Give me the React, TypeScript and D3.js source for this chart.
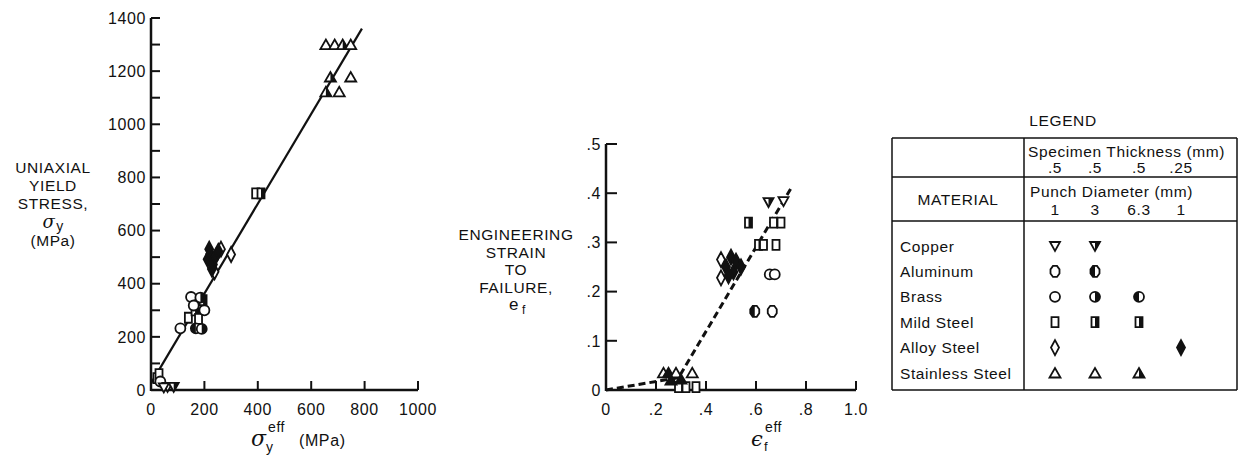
import React from 'react';
import * as d3 from 'd3';

// marker: [x, y, fill]  fill: o = open, l = left half, r = right half, f = filled
const leftStainless = [[655, 1300, 'o'], [688, 1300, 'o'], [718, 1300, 'r'], [748, 1300, 'o'], [672, 1178, 'r'], [748, 1178, 'o'], [655, 1122, 'r'], [705, 1122, 'o']];
const leftMild = [[392, 740, 'o'], [412, 740, 'r'], [140, 272, 'o'], [165, 300, 'r'], [178, 268, 'o'], [195, 338, 'r'], [22, 45, 'o'], [30, 60, 'o']];
const leftBrass = [[150, 350, 'o'], [185, 348, 'r'], [110, 232, 'o'], [168, 232, 'l'], [200, 300, 'o'], [190, 230, 'r'], [160, 318, 'o'], [35, 32, 'o']];
const leftAlloy = [[300, 510, 'o'], [262, 530, 'o'], [238, 445, 'o'], [212, 492, 'f'], [222, 512, 'f'], [232, 472, 'f'], [242, 502, 'f'], [218, 530, 'f'], [252, 522, 'f'], [228, 455, 'f']];
const leftCopper = [[62, 12, 'o'], [85, 12, 'r'], [48, 10, 'o']];
const leftFit = [[0, 25], [790, 1360]];

const rightCopper = [[0.65, 0.382, 'r'], [0.71, 0.384, 'o']];
const rightMild = [[0.57, 0.34, 'r'], [0.67, 0.34, 'o'], [0.70, 0.34, 'o'], [0.61, 0.295, 'r'], [0.63, 0.295, 'o'], [0.68, 0.295, 'o'], [0.29, 0.006, 'o'], [0.32, 0.006, 'o'], [0.36, 0.006, 'o']];
const rightBrass = [[0.655, 0.235, 'o'], [0.675, 0.235, 'o']];
const rightAluminum = [[0.595, 0.16, 'l'], [0.665, 0.16, 'o']];
const rightAlloy = [[0.46, 0.265, 'o'], [0.46, 0.228, 'o'], [0.48, 0.25, 'f'], [0.50, 0.27, 'f'], [0.51, 0.24, 'f'], [0.52, 0.262, 'f'], [0.54, 0.25, 'f'], [0.49, 0.232, 'f']];
const rightStainless = [[0.23, 0.035, 'o'], [0.25, 0.035, 'f'], [0.28, 0.035, 'o'], [0.345, 0.035, 'o'], [0.26, 0.02, 'f'], [0.30, 0.022, 'f']];
const rightFit = [[0, 0], [0.29, 0.025], [0.74, 0.41]];

const leftYTicks = [0, 200, 400, 600, 800, 1000, 1200, 1400];
const leftYMinor = [100, 300, 500, 700, 900, 1100, 1300];
const leftXTicks = [0, 200, 400, 600, 800, 1000];
const rightYTicks = [0, 0.1, 0.2, 0.3, 0.4, 0.5];
const rightYLabels = ['0', '.1', '.2', '.3', '.4', '.5'];
const rightXTicks = [0, 0.2, 0.4, 0.6, 0.8, 1.0];
const rightXLabels = ['0', '.2', '.4', '.6', '.8', '1.0'];

const materials = ['Copper', 'Aluminum', 'Brass', 'Mild Steel', 'Alloy Steel', 'Stainless Steel'];
const thickness = ['.5', '.5', '.5', '.25'];
const punch = ['1', '3', '6.3', '1'];
// legend symbol fill per material per column ('' = none)
const legendFills = [
  ['o', 'r', '', ''],
  ['o', 'l', '', ''],
  ['o', 'r', 'l', ''],
  ['o', 'r', 'r', ''],
  ['o', '', '', 'f'],
  ['o', 'o', 'r', ''],
];
const shapes = ['triDown', 'hex', 'circle', 'rect', 'diamond', 'triUp'];

const FONT = 'Liberation Sans, Arial, sans-serif';
const LS = 0.6;

function shapePath(shape: string) {
  switch (shape) {
    case 'triDown': return 'M-5,-4L5,-4L0,5Z';
    case 'triUp': return 'M-5.5,4.5L5.5,4.5L0,-5Z';
    case 'rect': return 'M-3.5,-5h7v10h-7Z';
    case 'circle': return 'M-5,0a5,5 0 1,0 10,0a5,5 0 1,0 -10,0Z';
    case 'hex': return 'M-2,-5.5L2,-5.5L4.5,-2L4.5,2L2,5.5L-2,5.5L-4.5,2L-4.5,-2Z';
    default: return 'M0,-7.5L4,0L0,7.5L-4,0Z';
  }
}

function Marker({ shape, fill, x, y }: { shape: string; fill: string; x: number; y: number }) {
  const d = shapePath(shape);
  return (
    <g transform={`translate(${x},${y})`}>
      <path d={d} fill={fill === 'f' ? '#111' : '#fff'} stroke="#111" strokeWidth={1.8} />
      {(fill === 'l' || fill === 'r') && (
        <path d={d} fill="#111" clipPath={`url(#half-${fill})`} />
      )}
    </g>
  );
}

export default function App() {
  const xL = d3.scaleLinear().domain([0, 1000]).range([151, 418]);
  const yL = d3.scaleLinear().domain([0, 1400]).range([390, 18]);
  const xR = d3.scaleLinear().domain([0, 1]).range([606, 856]);
  const yR = d3.scaleLinear().domain([0, 0.5]).range([390, 144]);

  const lineL = d3.line<number[]>().x(d => xL(d[0])).y(d => yL(d[1]));
  const lineR = d3.line<number[]>().x(d => xR(d[0])).y(d => yR(d[1]));

  const leftSets: [string, any[]][] = [
    ['triUp', leftStainless], ['rect', leftMild], ['circle', leftBrass], ['diamond', leftAlloy], ['triDown', leftCopper],
  ];
  const rightSets: [string, any[]][] = [
    ['triDown', rightCopper], ['rect', rightMild], ['circle', rightBrass], ['hex', rightAluminum], ['diamond', rightAlloy], ['triUp', rightStainless],
  ];

  // legend layout
  const lgL = 892, lgR = 1237, lgDiv = 1024;
  const lgTop = 138, lgBot = 390;
  const colX = [1055, 1095, 1139, 1181];
  const rowY = d3.scalePoint().domain(materials).range([246, 373]);

  return (
    <svg width={1241} height={455} style={{ position: 'absolute', left: 0, top: 0, background: '#fff' }}
      fontFamily={FONT} fill="#111" letterSpacing={LS}>
      <defs>
        <clipPath id="half-l"><rect x={-10} y={-10} width={10} height={20} /></clipPath>
        <clipPath id="half-r"><rect x={0} y={-10} width={10} height={20} /></clipPath>
      </defs>

      {/* left chart */}
      <g>
        <line x1={xL(0)} x2={xL(0)} y1={yL(0) + 1} y2={yL(1400)} stroke="#111" strokeWidth={2.5} />
        <line x1={xL(0)} x2={xL(1000)} y1={yL(0)} y2={yL(0)} stroke="#111" strokeWidth={2.5} />
        {leftYTicks.map(t => (
          <g key={t}>
            <line x1={xL(0)} x2={xL(0) + 9} y1={yL(t)} y2={yL(t)} stroke="#111" strokeWidth={2} />
            <text x={xL(0) - 5} y={yL(t)} dy="0.36em" textAnchor="end" fontSize={16}>{t}</text>
          </g>
        ))}
        {leftYMinor.map(t => (
          <line key={t} x1={xL(0)} x2={xL(0) + 9} y1={yL(t)} y2={yL(t)} stroke="#111" strokeWidth={2} />
        ))}
        {leftXTicks.map(t => (
          <g key={t}>
            <line x1={xL(t)} x2={xL(t)} y1={yL(0)} y2={yL(0) - 9} stroke="#111" strokeWidth={2} />
            <text x={xL(t)} y={yL(0) + 25} textAnchor="middle" fontSize={16}>{t}</text>
          </g>
        ))}
        <path d={lineL(leftFit) || ''} fill="none" stroke="#111" strokeWidth={2.2} />
        {leftSets.map(([shape, pts]) => pts.map((p, i) => (
          <Marker key={shape + i} shape={shape} fill={p[2]} x={xL(p[0])} y={yL(p[1])} />
        )))}
        <text x={251} y={446} fontSize={22} fontStyle="italic" fontFamily="DejaVu Serif, serif">σ</text>
        <text x={266} y={452} fontSize={14}>y</text>
        <text x={268} y={432} fontSize={14}>eff</text>
        <text x={299} y={446} fontSize={16}>(MPa)</text>
        <g textAnchor="middle" fontSize={15.5}>
          <text x={53} y={173}>UNIAXIAL</text>
          <text x={53} y={191}>YIELD</text>
          <text x={53} y={209}>STRESS,</text>
          <text x={49} y={228} fontSize={18} fontStyle="italic" fontFamily="DejaVu Serif, serif">σ</text>
          <text x={60} y={231} fontSize={14}>y</text>
          <text x={53} y={246}>(MPa)</text>
        </g>
      </g>

      {/* right chart */}
      <g>
        <line x1={xR(0)} x2={xR(0)} y1={yR(0) + 1} y2={yR(0.5)} stroke="#111" strokeWidth={2.5} />
        <line x1={xR(0)} x2={xR(1)} y1={yR(0)} y2={yR(0)} stroke="#111" strokeWidth={2.5} />
        {rightYTicks.map((t, i) => (
          <g key={t}>
            <line x1={xR(0)} x2={xR(0) + 11} y1={yR(t)} y2={yR(t)} stroke="#111" strokeWidth={2} />
            <text x={xR(0) - 5} y={yR(t)} dy="0.36em" textAnchor="end" fontSize={16}>{rightYLabels[i]}</text>
          </g>
        ))}
        {rightXTicks.map((t, i) => (
          <g key={t}>
            <line x1={xR(t)} x2={xR(t)} y1={yR(0)} y2={yR(0) - 9} stroke="#111" strokeWidth={2} />
            <text x={xR(t)} y={yR(0) + 25} textAnchor="middle" fontSize={16}>{rightXLabels[i]}</text>
          </g>
        ))}
        <path d={lineR(rightFit) || ''} fill="none" stroke="#111" strokeWidth={3} strokeDasharray="7,4" />
        {rightSets.map(([shape, pts]) => pts.map((p, i) => (
          <Marker key={shape + i} shape={shape} fill={p[2]} x={xR(p[0])} y={yR(p[1])} />
        )))}
        <text x={751} y={446} fontSize={21} fontStyle="italic" fontFamily="DejaVu Serif, serif">ϵ</text>
        <text x={764} y={451} fontSize={13}>f</text>
        <text x={765} y={432} fontSize={14}>eff</text>
        <g textAnchor="middle" fontSize={15.5}>
          <text x={516} y={240}>ENGINEERING</text>
          <text x={516} y={258}>STRAIN</text>
          <text x={516} y={275}>TO</text>
          <text x={516} y={293}>FAILURE,</text>
          <text x={514} y={310} fontSize={17}>e</text>
          <text x={524} y={314} fontSize={12}>f</text>
        </g>
      </g>

      {/* legend */}
      <g fontSize={15.5}>
        <text x={1063} y={126} textAnchor="middle">LEGEND</text>
        <g stroke="#111" strokeWidth={1.5}>
          <line x1={lgL} x2={lgR} y1={lgTop} y2={lgTop} />
          <line x1={lgL} x2={lgL} y1={lgTop} y2={lgBot} />
          <line x1={lgR} x2={lgR} y1={lgTop} y2={lgBot} />
          <line x1={lgDiv} x2={lgDiv} y1={lgTop} y2={lgBot} />
          <line x1={lgL} x2={lgR} y1={177} y2={177} />
          <line x1={lgL} x2={lgR} y1={221} y2={221} />
          <line x1={lgL} x2={lgR} y1={lgBot} y2={lgBot} />
        </g>
        <text x={1028} y={157}>Specimen Thickness (mm)</text>
        {thickness.map((t, i) => (
          <text key={i} x={colX[i]} y={173} textAnchor="middle">{t}</text>
        ))}
        <text x={1030} y={197}>Punch Diameter (mm)</text>
        {punch.map((t, i) => (
          <text key={i} x={colX[i]} y={215} textAnchor="middle">{t}</text>
        ))}
        <text x={958} y={205} textAnchor="middle">MATERIAL</text>
        {materials.map((m, r) => (
          <g key={m}>
            <text x={900} y={(rowY(m) || 0)} dy="0.36em">{m}</text>
            {legendFills[r].map((f, c) => f ? (
              <Marker key={c} shape={shapes[r]} fill={f} x={colX[c]} y={rowY(m) || 0} />
            ) : null)}
          </g>
        ))}
      </g>
    </svg>
  );
}
